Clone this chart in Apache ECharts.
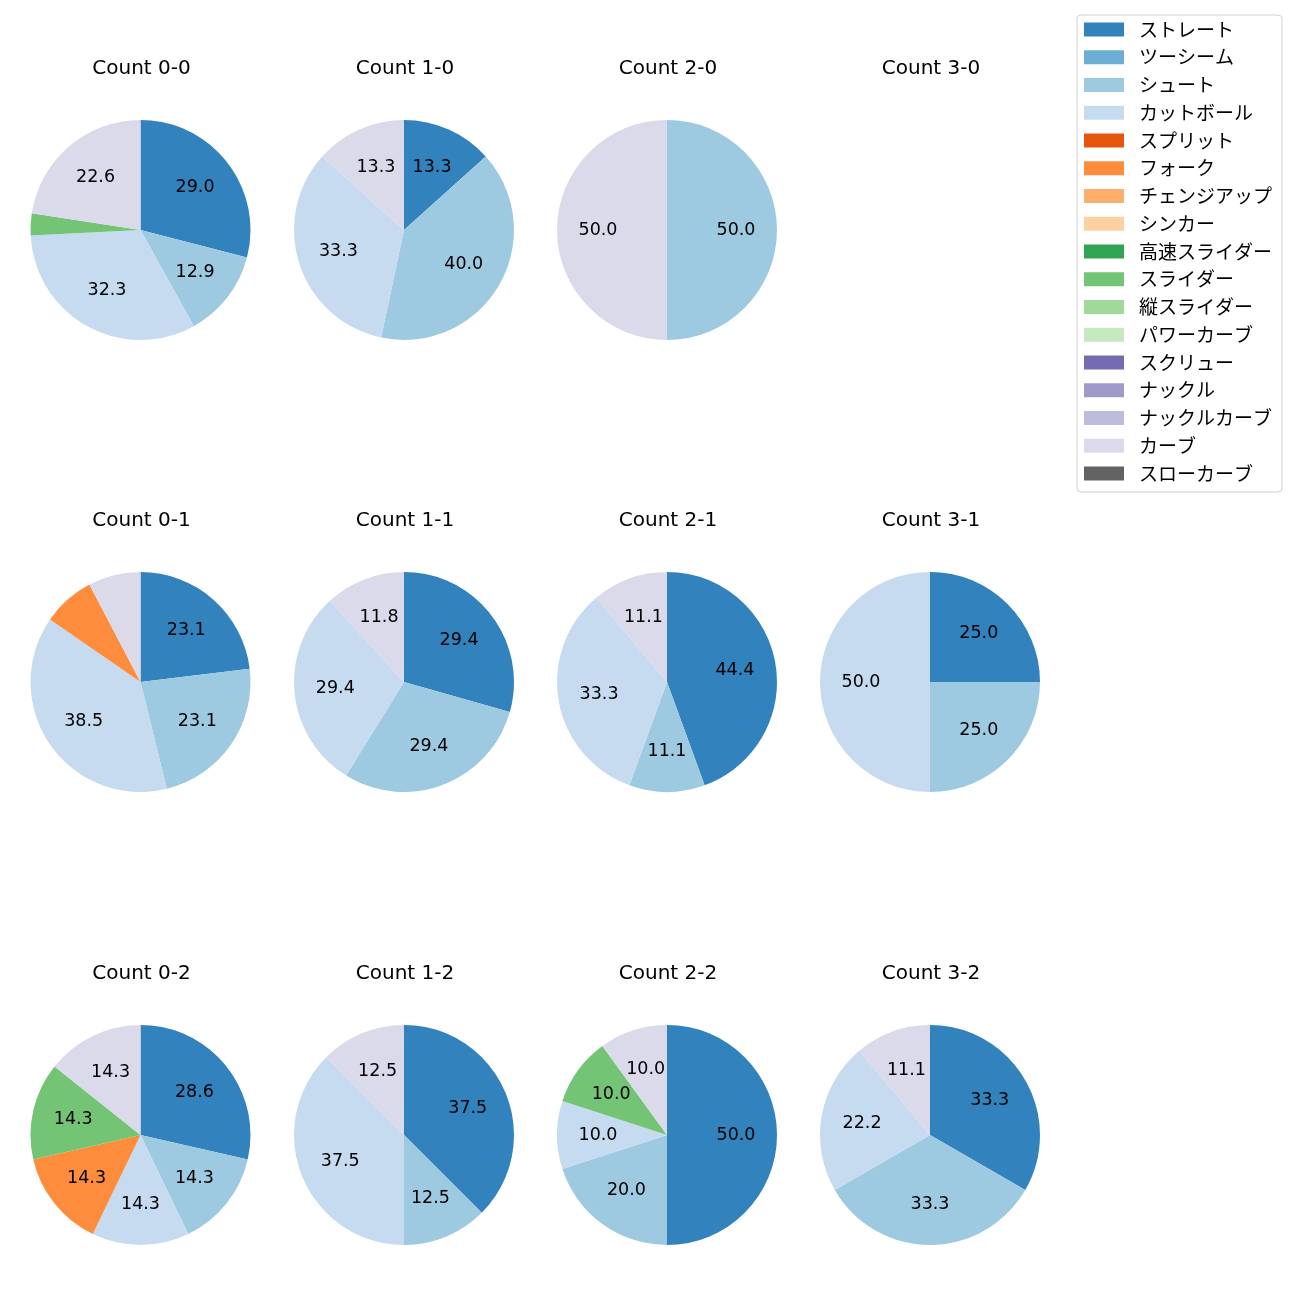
<!DOCTYPE html>
<html>
<head>
<meta charset="utf-8">
<script src="https://cdn.jsdelivr.net/npm/echarts@6/dist/echarts.min.js"></script>
<style>html,body{margin:0;padding:0;background:#fff}#c{width:1300px;height:1300px}</style>
</head>
<body>
<div id="c"></div>
<script>
const pitchTypes = ['ストレート','ツーシーム','シュート','カットボール','スプリット','フォーク','チェンジアップ','シンカー','高速スライダー','スライダー','縦スライダー','パワーカーブ','スクリュー','ナックル','ナックルカーブ','カーブ','スローカーブ'];
const pitchColors = ['#3182bd','#6baed6','#9ecae1','#c6dbef','#e6550d','#fd8d3c','#fdae6b','#fdd0a2','#31a354','#74c476','#a1d99b','#c7e9c0','#756bb1','#9e9ac8','#bcbddc','#dadaeb','#636363'];

const countTitles = ['Count 0-0','Count 1-0','Count 2-0','Count 3-0','Count 0-1','Count 1-1','Count 2-1','Count 3-1','Count 0-2','Count 1-2','Count 2-2','Count 3-2'];
// pitch counts per count situation: [pitchName, number]
const count00 = [['ストレート',9],['シュート',4],['カットボール',10],['スライダー',1],['カーブ',7]];
const count10 = [['ストレート',2],['シュート',6],['カットボール',5],['カーブ',2]];
const count20 = [['シュート',1],['カーブ',1]];
const count30 = [];
const count01 = [['ストレート',3],['シュート',3],['カットボール',5],['フォーク',1],['カーブ',1]];
const count11 = [['ストレート',5],['シュート',5],['カットボール',5],['カーブ',2]];
const count21 = [['ストレート',4],['シュート',1],['カットボール',3],['カーブ',1]];
const count31 = [['ストレート',1],['シュート',1],['カットボール',2]];
const count02 = [['ストレート',2],['シュート',1],['カットボール',1],['フォーク',1],['スライダー',1],['カーブ',1]];
const count12 = [['ストレート',3],['シュート',1],['カットボール',3],['カーブ',1]];
const count22 = [['ストレート',5],['シュート',2],['カットボール',1],['スライダー',1],['カーブ',1]];
const count32 = [['ストレート',3],['シュート',3],['カットボール',2],['カーブ',1]];
const allCounts = [count00,count10,count20,count30,count01,count11,count21,count31,count02,count12,count22,count32];

const LATIN = "'DejaVu Sans', 'Noto Sans CJK JP', sans-serif";
const CJK = "'Noto Sans CJK JP', sans-serif";
const colX = [140.5, 404, 667, 930];
const rowY = [230, 682, 1135];
const R = 110;

const colorOf = n => pitchColors[pitchTypes.indexOf(n)];

const series = [];
const titles = [];
// hidden series carrying all pitch types for the legend
series.push({
  type:'pie', radius:[0,0], center:[-100,-100], silent:true, label:{show:false}, labelLine:{show:false},
  data: pitchTypes.map((n,i)=>({name:n, value:1, itemStyle:{color:pitchColors[i]}}))
});

allCounts.forEach((d, k) => {
  const cx = colX[k % 4], cy = rowY[Math.floor(k / 4)];
  titles.push({text: countTitles[k], left: cx + 1, top: cy - R - 61, textAlign:'center', padding:0,
    textStyle:{fontFamily:LATIN, fontSize:20, fontWeight:'normal', color:'#000'}});
  if (!d.length) return;
  const total = d.reduce((s, x) => s + x[1], 0);
  const data = d.map(x => ({name:x[0], value:x[1], itemStyle:{color:colorOf(x[0])}}));
  series.push({
    type:'pie', radius:[0,R], center:[cx,cy], startAngle:90, clockwise:true,
    label:{show:false}, labelLine:{show:false}, emphasis:{disabled:true},
    itemStyle:{borderWidth:0}, data
  });
  series.push({
    type:'pie', radius:[R*0.2,R], center:[cx,cy], startAngle:90, clockwise:true, silent:true,
    itemStyle:{color:'rgba(0,0,0,0)', borderWidth:0}, labelLine:{show:false}, emphasis:{disabled:true},
    label:{show:true, position:'inside', fontFamily:LATIN, fontSize:17.5, color:'#000',
      formatter: p => { const pct = p.value / total * 100; return pct >= 10 ? pct.toFixed(1) : ''; }},
    data: d.map(x => ({name:x[0], value:x[1]}))
  });
});

const chart = echarts.init(document.getElementById('c'), null, {renderer:'canvas'});
chart.setOption({
  animation:false,
  title: titles,
  legend: {
    data: pitchTypes, orient:'vertical', left:1077, top:15,
    itemWidth:40, itemHeight:14, itemGap:8.75, padding:[5,10,9,7],
    borderColor:'#d0d0d0', borderWidth:1, borderRadius:4,
    textStyle:{fontFamily:CJK, fontSize:19, color:'#000', padding:[0,0,0,10]},
    icon:'rect', selectedMode:false
  },
  series
});
</script>
</body>
</html>
